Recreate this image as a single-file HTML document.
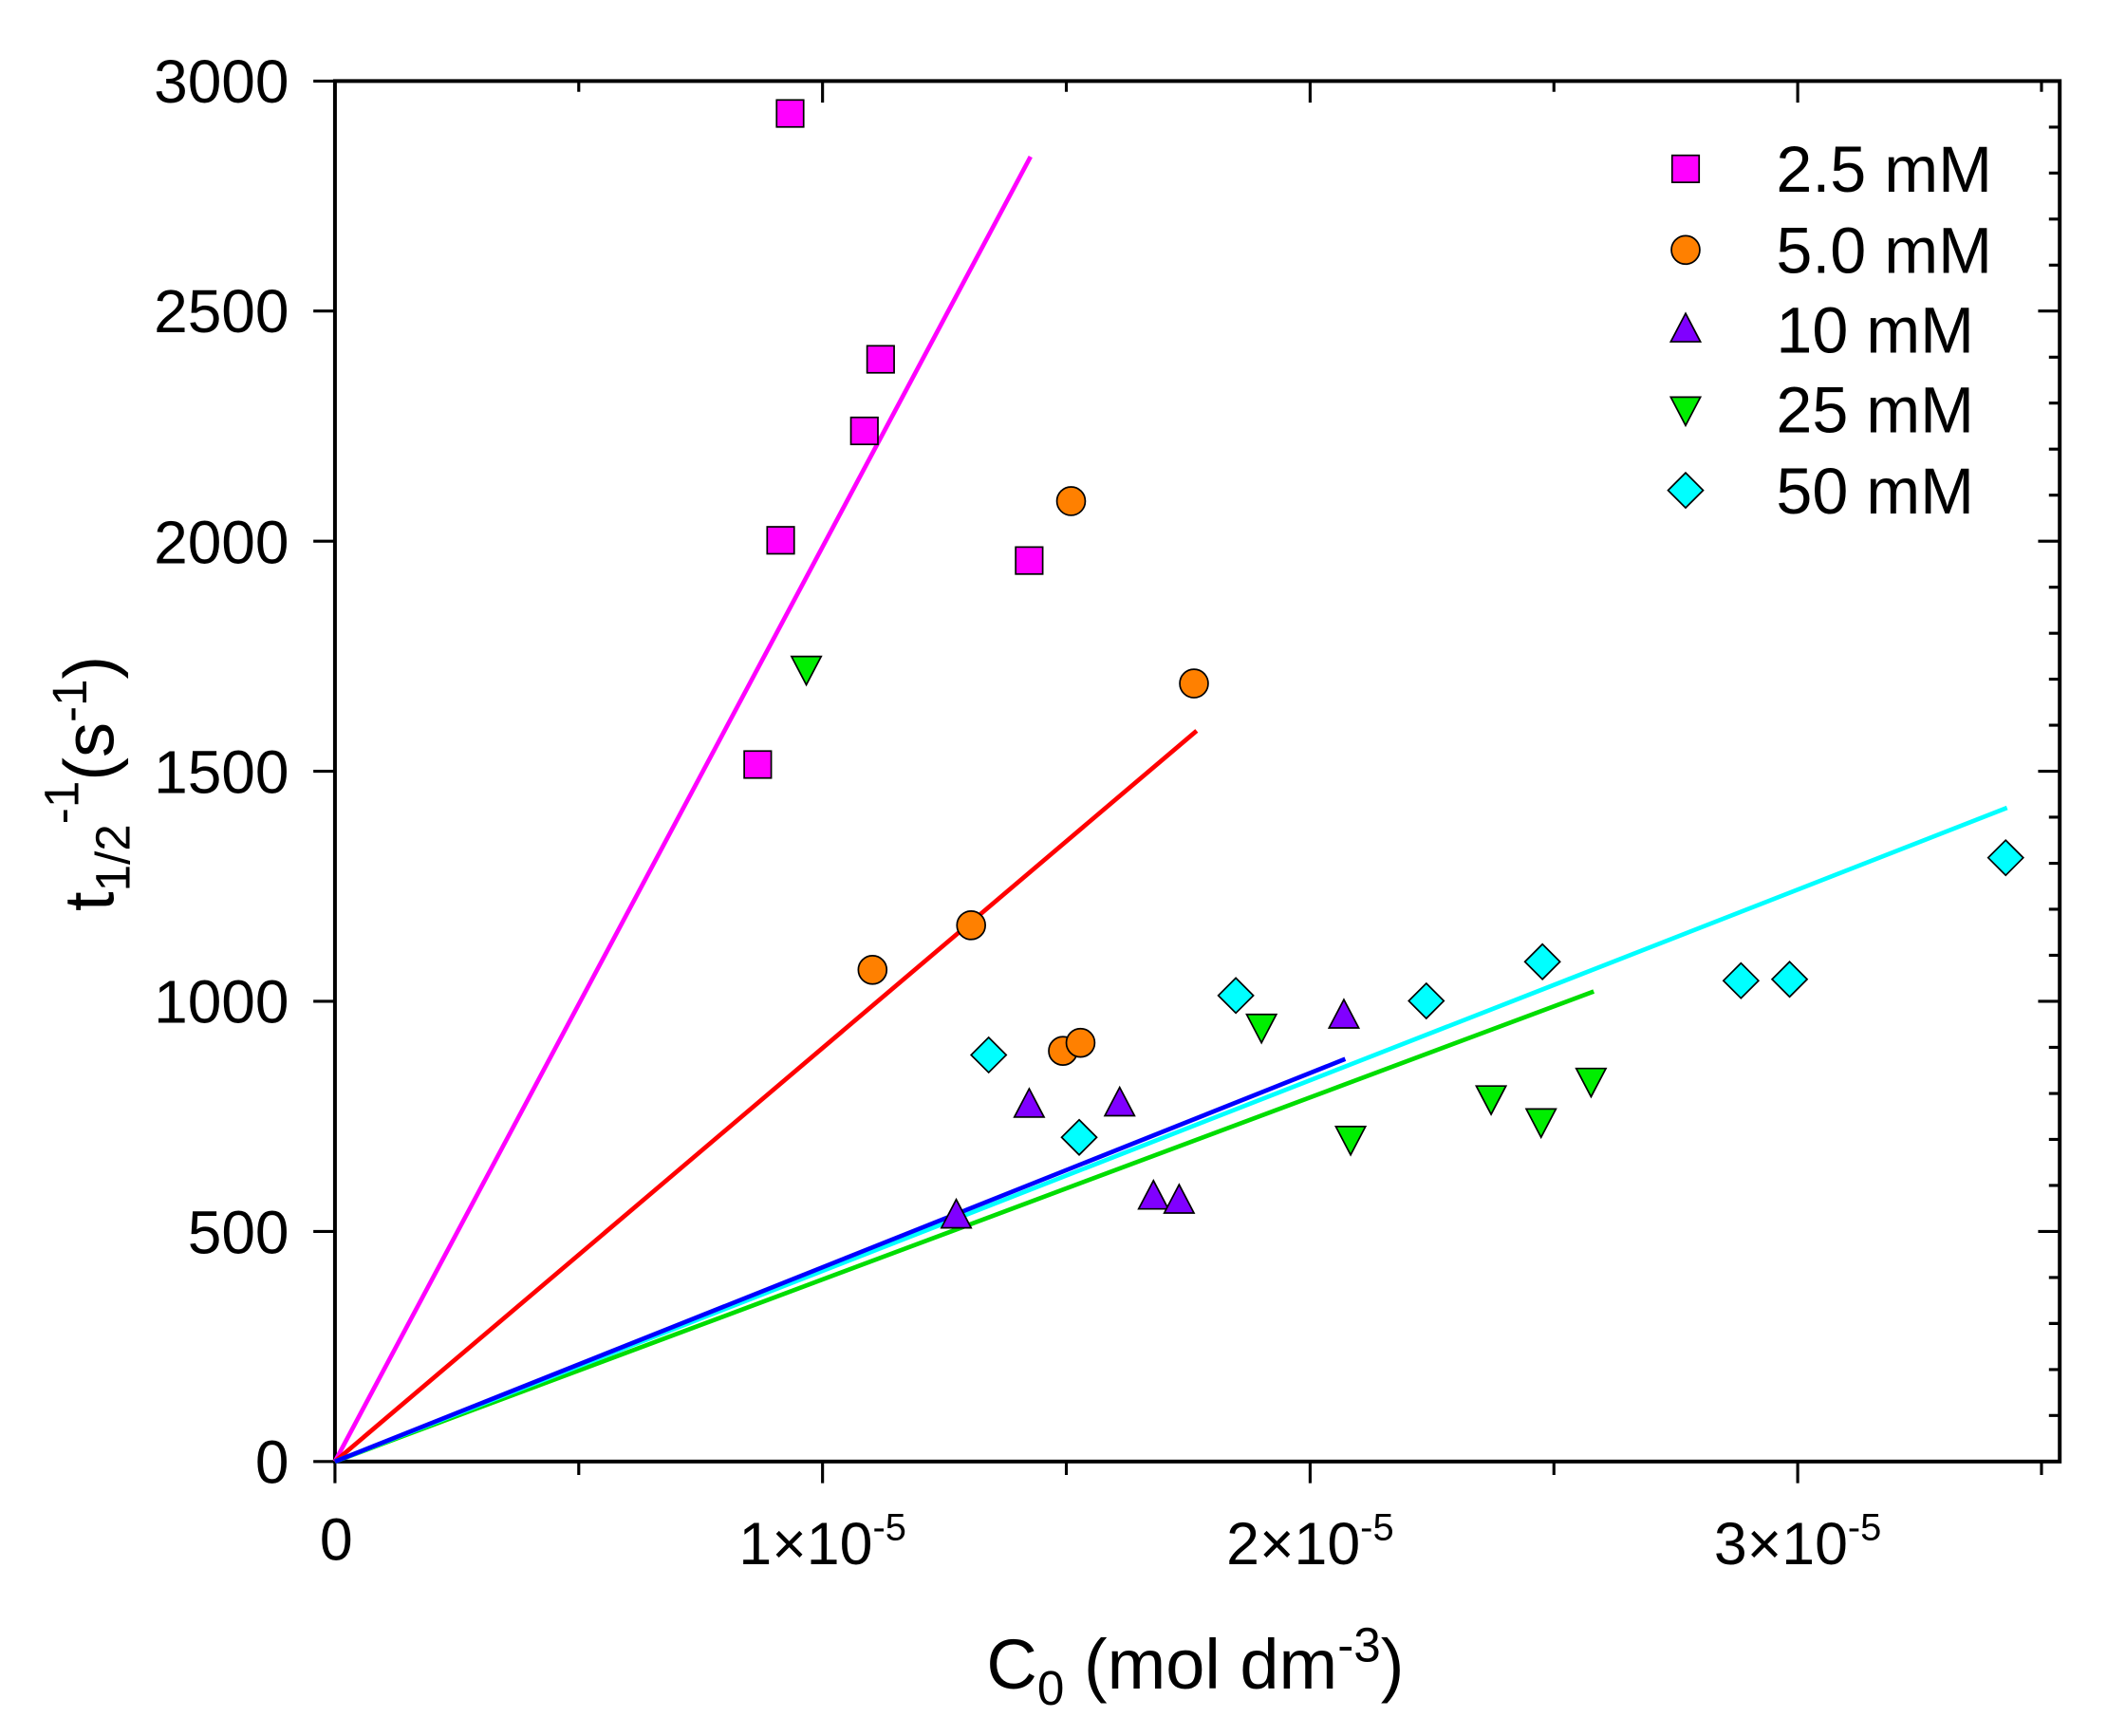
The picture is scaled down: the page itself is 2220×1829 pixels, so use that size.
<!DOCTYPE html>
<html><head><meta charset="utf-8"><style>html,body{margin:0;padding:0;background:#fff}svg{display:block}text{font-family:"Liberation Sans",Arial,sans-serif;fill:#000}</style></head><body>
<svg width="2220" height="1829" viewBox="0 0 1560 1285.2" preserveAspectRatio="none" xmlns="http://www.w3.org/2000/svg">
<defs>
<rect id="sq" x="-10" y="-10" width="20" height="20" fill="#ff00ff" stroke="#000" stroke-width="1.2"/>
<circle id="ci" r="10.5" fill="#ff8000" stroke="#000" stroke-width="1.2"/>
<polygon id="tu" points="0,-12 11,9 -11,9" fill="#8000ff" stroke="#000" stroke-width="1.2"/>
<polygon id="td" points="0,12 11,-9 -11,-9" fill="#00ee00" stroke="#000" stroke-width="1.2"/>
<polygon id="di" points="0,-13 13,0 0,13 -13,0" fill="#00ffff" stroke="#000" stroke-width="1.2"/>
</defs>
<g stroke="#000" stroke-width="2.8" fill="none">
<rect x="248" y="60" width="1277" height="1022"/>
</g>
<g stroke="#000" stroke-width="2.2">
<path d="M232 1082H248M232 911.7H248M232 741.3H248M232 571H248M232 400.7H248M232 230.3H248M232 60H248"/>
<path d="M1525 1082H1509M1525 911.7H1509M1525 741.3H1509M1525 571H1509M1525 400.7H1509M1525 230.3H1509"/>
<path d="M1525 1047.9H1517M1525 1013.9H1517M1525 979.8H1517M1525 945.8H1517M1525 877.6H1517M1525 843.5H1517M1525 809.5H1517M1525 775.4H1517M1525 707.2H1517M1525 673.1H1517M1525 639.1H1517M1525 605H1517M1525 536.9H1517M1525 502.8H1517M1525 468.8H1517M1525 434.7H1517M1525 366.6H1517M1525 332.5H1517M1525 298.4H1517M1525 264.4H1517M1525 196.3H1517M1525 162.2H1517M1525 128.1H1517M1525 94.1H1517"/>
<path d="M248 1082V1098M609 1082V1098M970 1082V1098M1331 1082V1098M428.5 1082V1092M789.5 1082V1092M1150.5 1082V1092M1511.5 1082V1092"/>
<path d="M609 60V76M970 60V76M1331 60V76M428.5 60V68M789.5 60V68M1150.5 60V68M1511.5 60V68"/>
</g>
<g font-size="45" text-anchor="end">
<text x="214" y="1098">0</text>
<text x="214" y="928">500</text>
<text x="214" y="757">1000</text>
<text x="214" y="587">1500</text>
<text x="214" y="417">2000</text>
<text x="214" y="246">2500</text>
<text x="214" y="76">3000</text>
</g>
<g font-size="44" text-anchor="middle">
<text x="249" y="1155">0</text>
<text x="609" y="1158">1×10<tspan font-size="28" dy="-18">-5</tspan></text>
<text x="970" y="1158">2×10<tspan font-size="28" dy="-18">-5</tspan></text>
<text x="1331" y="1158">3×10<tspan font-size="28" dy="-18">-5</tspan></text>
<text x="885" y="1250" font-size="52">C<tspan font-size="36" dy="12">0</tspan><tspan dy="-12"> (mol dm</tspan><tspan font-size="36" dy="-20">-3</tspan><tspan dy="20">)</tspan></text>
</g>
<text transform="translate(84,580) rotate(-90)" font-size="52" text-anchor="middle">t<tspan font-size="36" dy="12">1/2</tspan><tspan font-size="36" dy="-38">-1</tspan><tspan dy="26">(s</tspan><tspan font-size="36" dy="-20">-1</tspan><tspan dy="20">)</tspan></text>
<g stroke-width="3.3" fill="none">
<line x1="248" y1="1082" x2="763" y2="116" stroke="#ff00ff"/>
<line x1="248" y1="1082" x2="886" y2="541" stroke="#ff0000"/>
<line x1="248" y1="1082" x2="1180" y2="734" stroke="#00dd00"/>
<line x1="248" y1="1082" x2="1486" y2="598" stroke="#00ffff"/>
<line x1="248" y1="1082" x2="996" y2="784" stroke="#0000ff"/>
</g>
<use href="#sq" x="585" y="84"/><use href="#sq" x="652" y="266"/><use href="#sq" x="640" y="319"/><use href="#sq" x="578" y="400"/><use href="#sq" x="762" y="415"/><use href="#sq" x="561" y="566"/>
<use href="#ci" x="793" y="371"/><use href="#ci" x="884" y="506"/><use href="#ci" x="719" y="685"/><use href="#ci" x="646" y="718"/><use href="#ci" x="787" y="778"/><use href="#ci" x="800" y="772"/>
<use href="#tu" x="708" y="900"/><use href="#tu" x="762" y="818"/><use href="#tu" x="829" y="817"/><use href="#tu" x="854" y="886"/><use href="#tu" x="873" y="889"/><use href="#tu" x="995" y="752"/>
<use href="#td" x="597" y="495"/><use href="#td" x="934" y="760"/><use href="#td" x="1000" y="843"/><use href="#td" x="1104" y="813"/><use href="#td" x="1141" y="830"/><use href="#td" x="1178" y="800"/>
<use href="#di" x="732" y="781"/><use href="#di" x="799" y="842"/><use href="#di" x="915" y="737"/><use href="#di" x="1056" y="741"/><use href="#di" x="1142" y="712"/><use href="#di" x="1289" y="726"/><use href="#di" x="1325" y="725"/><use href="#di" x="1485" y="635"/>
<use href="#sq" x="1248" y="125"/><use href="#ci" x="1248" y="185"/><use href="#tu" x="1248" y="244"/><use href="#td" x="1248" y="303"/><use href="#di" x="1248" y="363"/>
<g font-size="48">
<text x="1315" y="142">2.5 mM</text>
<text x="1315" y="202">5.0 mM</text>
<text x="1315" y="261">10 mM</text>
<text x="1315" y="320">25 mM</text>
<text x="1315" y="380">50 mM</text>
</g>
</svg>
</body></html>
